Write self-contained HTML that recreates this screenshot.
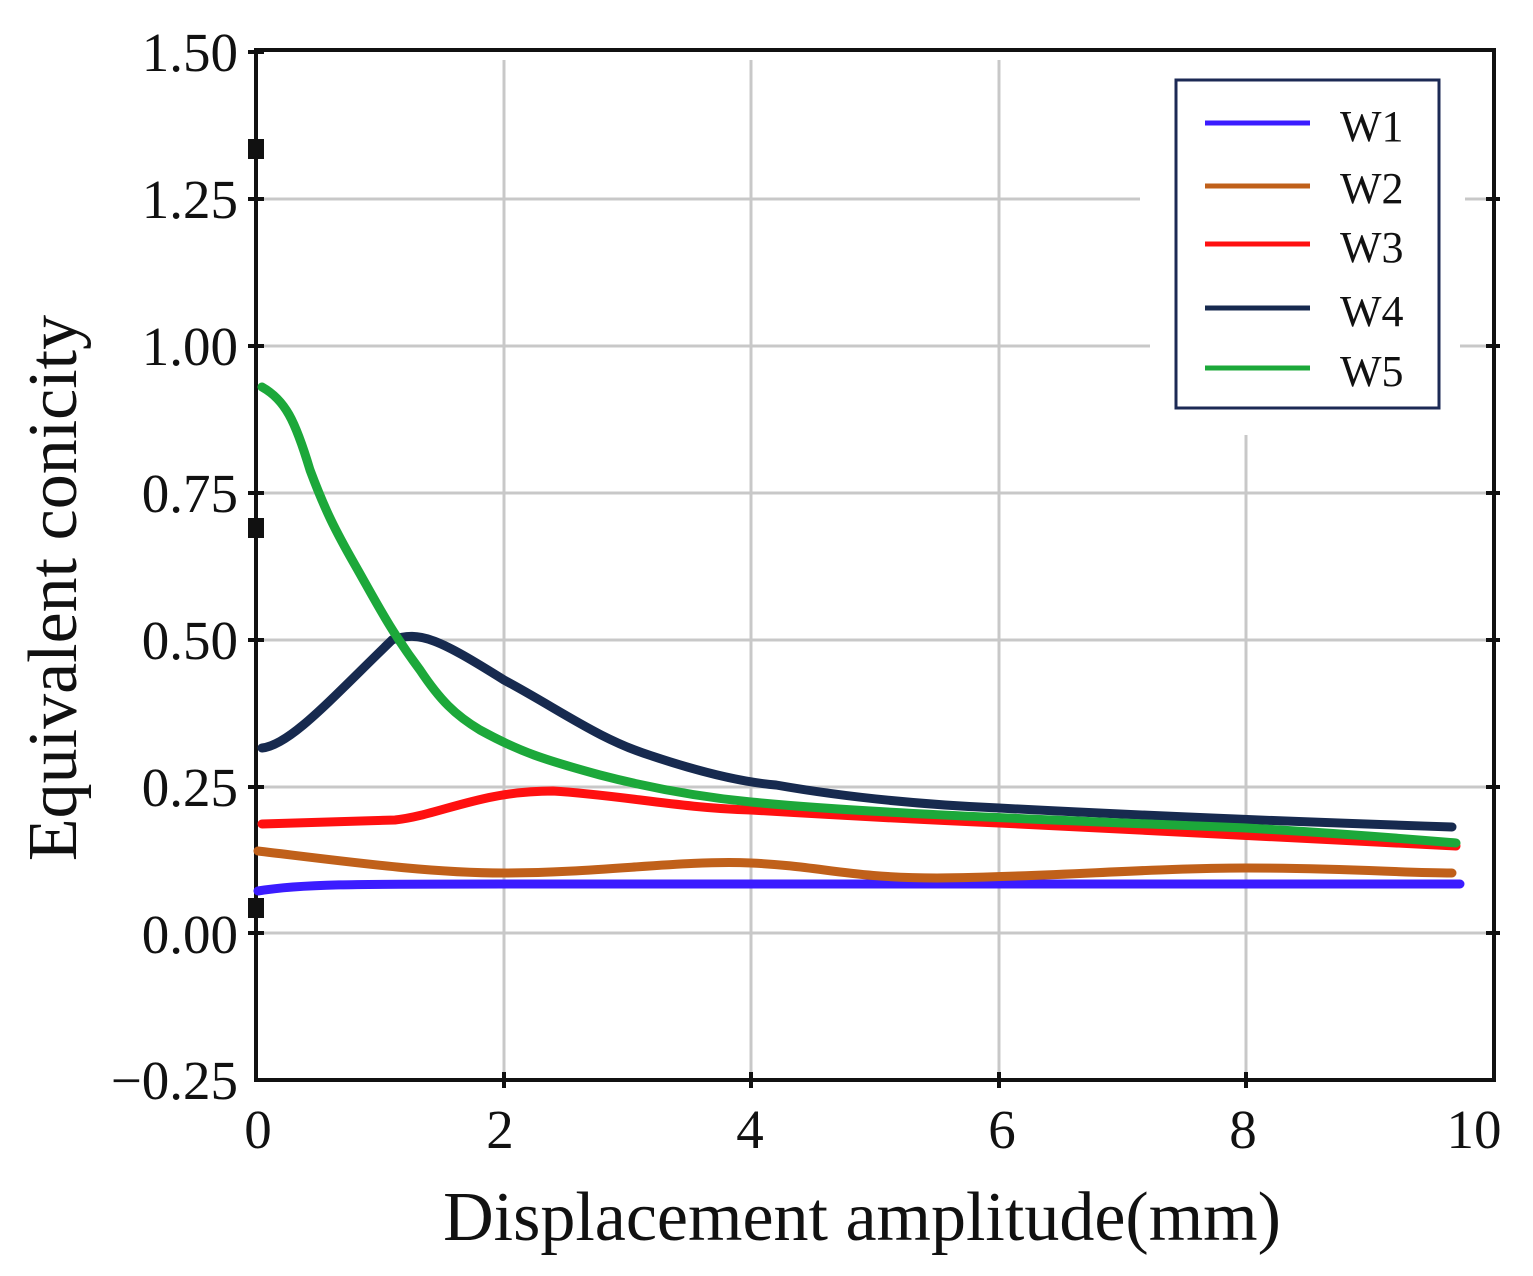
<!DOCTYPE html>
<html><head><meta charset="utf-8"><style>
html,body{margin:0;padding:0;background:#fff;}
svg{display:block;}
text{font-family:"Liberation Serif",serif;fill:#111;}
</style></head><body>
<svg width="1533" height="1276" viewBox="0 0 1533 1276">
<g stroke="#c8c8c8" stroke-width="3">
<line x1="504" y1="60" x2="504" y2="1080"/>
<line x1="751" y1="60" x2="751" y2="1080"/>
<line x1="999" y1="60" x2="999" y2="1080"/>
<line x1="1246" y1="435" x2="1246" y2="1080"/>
<line x1="256" y1="199" x2="1140" y2="199"/>
<line x1="1465" y1="199" x2="1494" y2="199"/>
<line x1="256" y1="346" x2="1150" y2="346"/>
<line x1="1460" y1="346" x2="1494" y2="346"/>
<line x1="256" y1="493" x2="1494" y2="493"/>
<line x1="256" y1="640" x2="1494" y2="640"/>
<line x1="256" y1="787" x2="1494" y2="787"/>
<line x1="256" y1="933" x2="1494" y2="933"/>
</g>
<rect x="256" y="50" width="1238" height="1030" fill="none" stroke="#111" stroke-width="4"/>
<g stroke="#111" stroke-width="4">
<line x1="248" y1="52" x2="264" y2="52"/><line x1="248" y1="199" x2="264" y2="199"/>
<line x1="248" y1="346" x2="264" y2="346"/><line x1="248" y1="493" x2="264" y2="493"/>
<line x1="248" y1="640" x2="264" y2="640"/><line x1="248" y1="787" x2="264" y2="787"/>
<line x1="248" y1="933" x2="264" y2="933"/>
<line x1="1486" y1="199" x2="1500" y2="199"/><line x1="1486" y1="346" x2="1500" y2="346"/>
<line x1="1486" y1="493" x2="1500" y2="493"/><line x1="1486" y1="640" x2="1500" y2="640"/>
<line x1="1486" y1="787" x2="1500" y2="787"/><line x1="1486" y1="933" x2="1500" y2="933"/>
<line x1="504" y1="1072" x2="504" y2="1088"/><line x1="751" y1="1072" x2="751" y2="1088"/>
<line x1="999" y1="1072" x2="999" y2="1088"/><line x1="1246" y1="1072" x2="1246" y2="1088"/>
</g>
<rect x="248" y="139" width="16" height="20" fill="#111"/>
<rect x="248" y="518" width="16" height="20" fill="#111"/>
<rect x="248" y="898" width="16" height="20" fill="#111"/>
<g font-size="55" text-anchor="end">
<text x="238" y="71">1.50</text><text x="238" y="218">1.25</text>
<text x="238" y="365">1.00</text><text x="238" y="512">0.75</text>
<text x="238" y="659">0.50</text><text x="238" y="806">0.25</text>
<text x="238" y="953">0.00</text><text x="238" y="1099">−0.25</text>
</g>
<g font-size="55" text-anchor="middle">
<text x="258" y="1148">0</text><text x="500" y="1148">2</text><text x="750" y="1148">4</text>
<text x="1002" y="1148">6</text><text x="1243" y="1148">8</text><text x="1474" y="1148">10</text>
</g>
<text x="862" y="1240" font-size="70" text-anchor="middle">Displacement amplitude(mm)</text>
<text transform="translate(76,588) rotate(-90)" font-size="70" text-anchor="middle">Equivalent conicity</text>
<g fill="none" stroke-width="9" stroke-linecap="round" stroke-linejoin="round">
<path stroke="#3b1cff" d="M258,891 C300,884 350,884 504,884 L1460,884"/>
<path stroke="#c0601a" d="M258,851 C350,862 430,873 504,873 C600,873 680,860 751,863 C820,866 850,878 937,878 C1050,877 1150,868 1246,868 C1350,868 1400,873 1452,873"/>
<path stroke="#ff1010" d="M262,824 L395,820 C440,815 480,791 553,791 C620,795 680,808 751,810 C850,816 930,820 999,823 C1200,834 1350,842 1456,846"/>
<path stroke="#172a4f" d="M262,748 C290,745 330,700 392,640 C420,630 440,640 504,680 C560,710 600,740 652,756 C700,772 740,782 776,785 C850,798 930,805 999,808 C1150,816 1300,822 1452,827"/>
<path stroke="#1ca83a" d="M262,387 C285,400 295,420 310,470 C325,510 335,530 355,565 C375,600 390,630 420,670 C440,700 455,715 480,730 C520,752 545,760 600,775 C650,788 700,797 751,802 C850,812 1000,818 1246,828 C1350,834 1420,840 1456,843"/>
</g>
<rect x="1176" y="80" width="263" height="328" fill="#fff" stroke="#1c2a55" stroke-width="3"/>
<g stroke-width="5">
<line x1="1205" y1="123" x2="1310" y2="123" stroke="#3b1cff"/>
<line x1="1205" y1="186" x2="1310" y2="186" stroke="#c0601a"/>
<line x1="1205" y1="244" x2="1310" y2="244" stroke="#ff1010"/>
<line x1="1205" y1="308" x2="1310" y2="308" stroke="#172a4f"/>
<line x1="1205" y1="368" x2="1310" y2="368" stroke="#1ca83a"/>
</g>
<g font-size="44">
<text x="1340" y="141">W1</text><text x="1340" y="203">W2</text><text x="1340" y="262">W3</text>
<text x="1340" y="326">W4</text><text x="1340" y="386">W5</text>
</g>
</svg>
</body></html>
